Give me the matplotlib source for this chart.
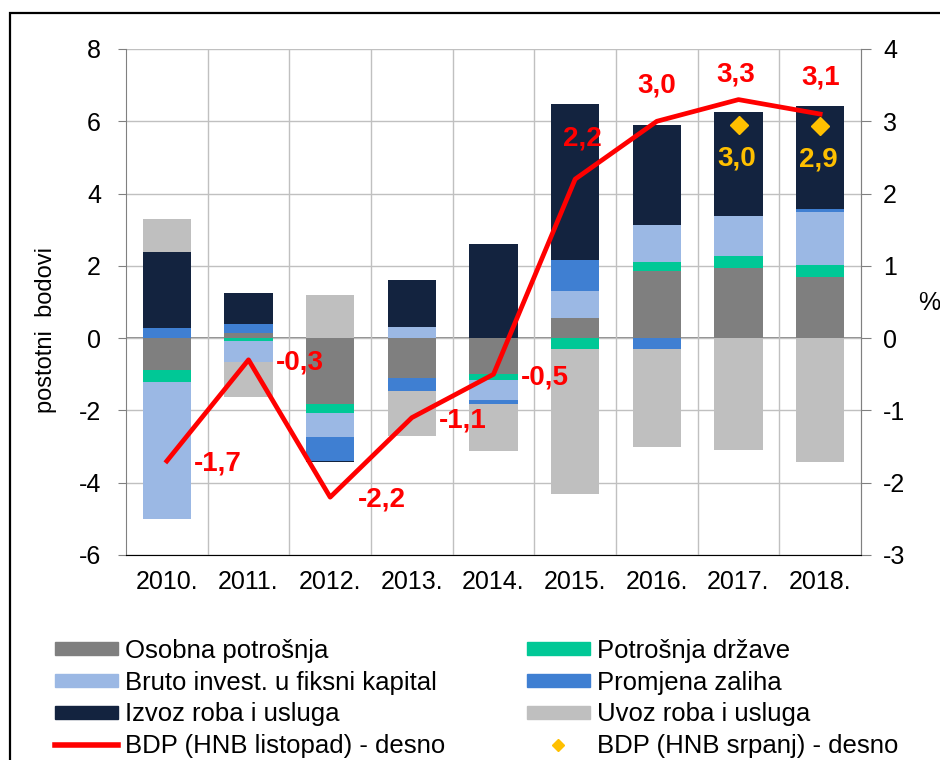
import numpy as np
import matplotlib
matplotlib.use("Agg")
import matplotlib.pyplot as plt
from matplotlib.patches import Patch, Rectangle
from matplotlib.lines import Line2D

plt.rcParams['font.family'] = ['Liberation Sans', 'DejaVu Sans']
plt.rcParams['axes.unicode_minus'] = False

# podaci
godine = ['2010.', '2011.', '2012.', '2013.', '2014.', '2015.', '2016.', '2017.', '2018.']
osobna = [-0.88, 0.15, -1.82, -1.10, -1.00, 0.56, 1.86, 1.94, 1.68]
drzava = [-0.33, -0.07, -0.25, 0.00, -0.17, -0.30, 0.25, 0.33, 0.34]
invest = [-3.80, -0.60, -0.66, 0.30, -0.54, 0.75, 1.01, 1.10, 1.47]
zalihe = [0.27, 0.25, -0.66, -0.35, -0.10, 0.85, -0.30, 0.00, 0.07]
izvoz = [2.10, 0.86, -0.05, 1.32, 2.60, 4.33, 2.77, 2.90, 2.87]
uvoz = [0.94, -0.95, 1.20, -1.27, -1.30, -4.00, -2.71, -3.09, -3.44]
bdp_listopad = [-1.7, -0.3, -2.2, -1.1, -0.5, 2.2, 3.0, 3.3, 3.1]
srpanj_godine = [7, 8]
bdp_srpanj = [2.95, 2.93]
srpanj_oznake = ['3,0', '2,9']

serije = [
    ('Osobna potrošnja', osobna, '#7f7f7f'),
    ('Potrošnja države', drzava, '#00c896'),
    ('Bruto invest. u fiksni kapital', invest, '#9bb8e4'),
    ('Promjena zaliha', zalihe, '#3f7fd2'),
    ('Izvoz roba i usluga', izvoz, '#13233f'),
    ('Uvoz roba i usluga', uvoz, '#bfbfbf'),
]

fig = plt.figure(figsize=(9.4, 7.6), dpi=100)
ax = fig.add_axes([126 / 940, 1 - 555 / 760, (861 - 126) / 940, (555 - 49) / 760])

x = np.arange(len(godine))
pos = np.zeros(len(godine))
neg = np.zeros(len(godine))
for naziv, vals, boja in serije:
    v = np.array(vals)
    dno = np.where(v >= 0, pos, neg)
    ax.bar(x, v, 0.59, bottom=dno, color=boja, zorder=2)
    pos = pos + np.clip(v, 0, None)
    neg = neg + np.clip(v, None, 0)

ax.set_xlim(-0.5, len(godine) - 0.5)
ax.set_ylim(-6, 8)
ax.set_yticks(range(-6, 9, 2))
ax.set_xticks(x)
ax.set_xticklabels(godine)
ax.set_xticks(x[:-1] + 0.5, minor=True)
ax.grid(True, axis='y', color='#c0c0c0', lw=1, zorder=0)
ax.grid(True, axis='x', which='minor', color='#c0c0c0', lw=1, zorder=0)
ax.axhline(0, color='#808080', lw=1.3, zorder=1)
ax.tick_params(axis='x', which='both', length=0, labelsize=18, pad=11)
ax.tick_params(axis='y', length=6, color='#808080', labelsize=18, pad=12)
for s in ax.spines.values():
    s.set_color('#a0a0a0')
ax.spines['left'].set_color('#808080')
ax.spines['top'].set_visible(False)

ax2 = ax.twinx()
ax2.set_ylim(-3, 4)
ax2.set_yticks(range(-3, 5))
ax2.tick_params(axis='y', length=7, color='#808080', labelsize=18, pad=9)
ax2.spines['right'].set_color('#808080')
ax2.spines['top'].set_visible(False)
ax2.spines['left'].set_visible(False)
ax2.plot(x, bdp_listopad, color='#ff0000', lw=3.4, zorder=5)
ax2.plot(srpanj_godine, bdp_srpanj, linestyle='none', marker='D', ms=9,
         color='#ffc000', zorder=6)

# oznake vrijednosti
for i, v in enumerate(bdp_listopad):
    txt = f'{v:.1f}'.replace('.', ',')
    if v < 0:
        off = (37, -2)
    elif i == 5:
        off = (5, 29)
    elif i == 7:
        off = (-2, 18)
    else:
        off = (0, 26)
    ax2.annotate(txt, (x[i], v), xytext=off, textcoords='offset points',
                 ha='center', va='center', color='#ff0000', fontsize=20,
                 fontweight='bold', zorder=7)
for xi, v, txt in zip(srpanj_godine, bdp_srpanj, srpanj_oznake):
    ax2.annotate(txt, (xi, v), xytext=(-1, -24), textcoords='offset points',
                 ha='center', va='center', color='#ffc000', fontsize=20,
                 fontweight='bold', zorder=7)

fig.text(46 / 940, 1 - 330 / 760, 'postotni  bodovi', rotation=90,
         ha='center', va='center', fontsize=17)
fig.text(929 / 940, 1 - 303 / 760, '%', ha='center', va='center', fontsize=18)

# legenda u dva stupca
ruk = [Patch(color=b) for _, _, b in serije]
imena = [n for n, _, _ in serije]
linija = Line2D([], [], color='#ff0000', lw=4)
romb = Line2D([], [], color='#ffc000', marker='D', ms=6, linestyle='none')
kw = dict(frameon=False, fontsize=18.5, handlelength=2.45, handleheight=0.38,
          handletextpad=0.27, labelspacing=0.3, borderpad=0, borderaxespad=0,
          loc='upper left')
fig.legend([ruk[0], ruk[2], ruk[4], linija],
           [imena[0], imena[2], imena[4], 'BDP (HNB listopad) - desno'],
           bbox_to_anchor=(55 / 940, 1 - 639 / 760), **kw)
fig.legend([ruk[1], ruk[3], ruk[5], romb],
           [imena[1], imena[3], imena[5], 'BDP (HNB srpanj) - desno'],
           bbox_to_anchor=(527 / 940, 1 - 639 / 760), **kw)

# okvir slike
fig.add_artist(Rectangle((10 / 940, -0.1), 2, 1 - 13 / 760 + 0.1, fill=False,
                         lw=1.6, edgecolor='black', transform=fig.transFigure))

fig.savefig('out.png', dpi=100)
